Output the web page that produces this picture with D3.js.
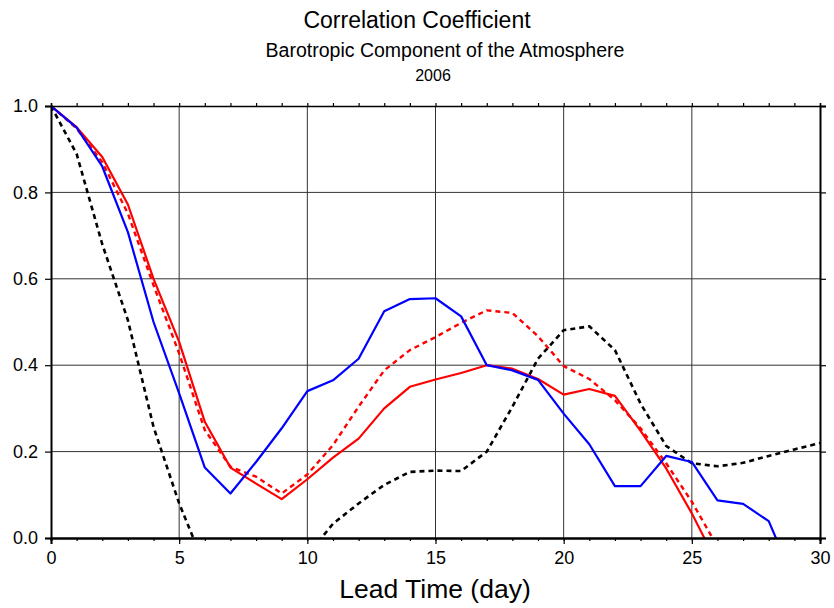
<!DOCTYPE html>
<html>
<head>
<meta charset="utf-8">
<script src="https://cdn.jsdelivr.net/npm/d3@7/dist/d3.min.js"></script>
<style>
  html, body { margin: 0; padding: 0; background: #fff; }
  svg { display: block; font-family: "Liberation Sans", Arial, Helvetica, sans-serif; }
</style>
</head>
<body>
<svg id="chart" width="834" height="608"></svg>
<script>
// Lead time in days
const days = d3.range(0, 31);

// Correlation coefficient per lead day (values below zero are clipped by the frame)
const blueSolid = [1.0, 0.95, 0.86, 0.708, 0.50, 0.335, 0.163, 0.103, 0.176, 0.254, 0.34,
  0.365, 0.415, 0.525, 0.553, 0.555, 0.513, 0.40, 0.388, 0.366, 0.288,
  0.217, 0.12, 0.12, 0.19, 0.176, 0.087, 0.079, 0.039, -0.10, -0.15];
const redSolid = [1.0, 0.951, 0.882, 0.772, 0.60, 0.454, 0.269, 0.163, 0.126, 0.09, 0.136,
  0.186, 0.23, 0.30, 0.35, 0.367, 0.382, 0.40, 0.392, 0.368, 0.332,
  0.345, 0.329, 0.248, 0.161, 0.057, -0.06, -0.15, -0.2, -0.25, -0.3];
const redDashed = [1.0, 0.948, 0.87, 0.751, 0.585, 0.427, 0.25, 0.165, 0.142, 0.103, 0.147,
  0.215, 0.304, 0.388, 0.435, 0.465, 0.498, 0.527, 0.521, 0.467, 0.398,
  0.368, 0.319, 0.254, 0.173, 0.084, -0.02, -0.12, -0.2, -0.25, -0.3];
const blackDashed = [1.0, 0.889, 0.68, 0.504, 0.257, 0.08, -0.065, -0.12, -0.13, -0.1, -0.04,
  0.033, 0.08, 0.123, 0.153, 0.156, 0.155, 0.20, 0.304, 0.415, 0.481,
  0.49, 0.435, 0.311, 0.213, 0.173, 0.166, 0.174, 0.19, 0.205, 0.22];

const xTicks = [0, 5, 10, 15, 20, 25, 30];
const yTicks = [0.0, 0.2, 0.4, 0.6, 0.8, 1.0];

const seriesList = [
  { values: blackDashed, color: "#000", dash: "5,4", width: 2.6 },
  { values: redDashed, color: "#ff0000", dash: "5,4", width: 2.4 },
  { values: redSolid, color: "#ff0000", dash: null, width: 2.2 },
  { values: blueSolid, color: "#0000ff", dash: null, width: 2.2 }
];

const svg = d3.select("#chart");
const plotLeft = 51, plotRight = 820, plotTop = 106, plotBottom = 538;

const x = d3.scaleLinear().domain([0, 30]).range([plotLeft, plotRight]);
const y = d3.scaleLinear().domain([0, 1]).range([plotBottom, plotTop]);

// Titles
svg.append("text").attr("x", 417).attr("y", 28).attr("text-anchor", "middle")
  .attr("font-size", 23).text("Correlation Coefficient");
svg.append("text").attr("x", 445).attr("y", 57).attr("text-anchor", "middle")
  .attr("font-size", 19.5).text("Barotropic Component of the Atmosphere");
svg.append("text").attr("x", 433).attr("y", 81).attr("text-anchor", "middle")
  .attr("font-size", 16).text("2006");

// Grid
const grid = svg.append("g").attr("stroke", "#333").attr("stroke-width", 1);
grid.selectAll("line.gx").data(xTicks.slice(1, -1)).join("line")
  .attr("x1", d => x(d)).attr("x2", d => x(d)).attr("y1", plotTop).attr("y2", plotBottom);
grid.selectAll("line.gy").data(yTicks.slice(1, -1)).join("line")
  .attr("x1", plotLeft).attr("x2", plotRight).attr("y1", d => y(d)).attr("y2", d => y(d));

// Curves, clipped to the frame
svg.append("clipPath").attr("id", "plotClip").append("rect")
  .attr("x", plotLeft).attr("y", plotTop - 2)
  .attr("width", plotRight - plotLeft).attr("height", plotBottom - plotTop + 2);

const line = d3.line().x((d, i) => x(days[i])).y(d => y(d));
const curves = svg.append("g").attr("clip-path", "url(#plotClip)");
seriesList.forEach(s => {
  curves.append("path").datum(s.values)
    .attr("d", line)
    .attr("fill", "none")
    .attr("stroke", s.color)
    .attr("stroke-width", s.width)
    .attr("stroke-dasharray", s.dash)
    .attr("stroke-linejoin", "round");
});

// Axes
const minorDays = d3.range(0, 31);
const bottomAxis = d3.axisBottom(x).tickValues(xTicks).tickSize(6).tickPadding(7).tickFormat(d3.format("d"));
const bottomMinor = d3.axisBottom(x).tickValues(minorDays).tickSize(3).tickFormat("");
const topMinor = d3.axisTop(x).tickValues(minorDays).tickSize(3).tickFormat("");
const leftAxis = d3.axisLeft(y).tickValues(yTicks).tickSize(6).tickPadding(7).tickFormat(d3.format(".1f"));
const rightAxis = d3.axisRight(y).tickValues(yTicks).tickSize(6).tickFormat("");

function styleAxis(g, w) {
  g.attr("font-size", 18).attr("font-family", "Liberation Sans, Arial, sans-serif");
  g.select(".domain").attr("stroke", "#000").attr("stroke-width", w);
  g.selectAll(".tick line").attr("stroke", "#000").attr("stroke-width", 1.2);
  g.selectAll(".tick text").attr("fill", "#000").style("font-size", "18px");
}

svg.append("g").attr("transform", `translate(0,${plotTop})`).call(topMinor).call(g => styleAxis(g, 1.5));
svg.append("g").attr("transform", `translate(${plotRight},0)`).call(rightAxis).call(g => styleAxis(g, 2));
svg.append("g").attr("transform", `translate(0,${plotBottom})`).call(bottomMinor).call(g => styleAxis(g, 2));
svg.append("g").attr("transform", `translate(0,${plotBottom})`).call(bottomAxis).call(g => styleAxis(g, 2));
svg.append("g").attr("transform", `translate(${plotLeft},0)`).call(leftAxis).call(g => styleAxis(g, 2));

// X axis title
svg.append("text").attr("x", 435).attr("y", 598).attr("text-anchor", "middle")
  .attr("font-size", 26.5).text("Lead Time (day)");
</script>
</body>
</html>
